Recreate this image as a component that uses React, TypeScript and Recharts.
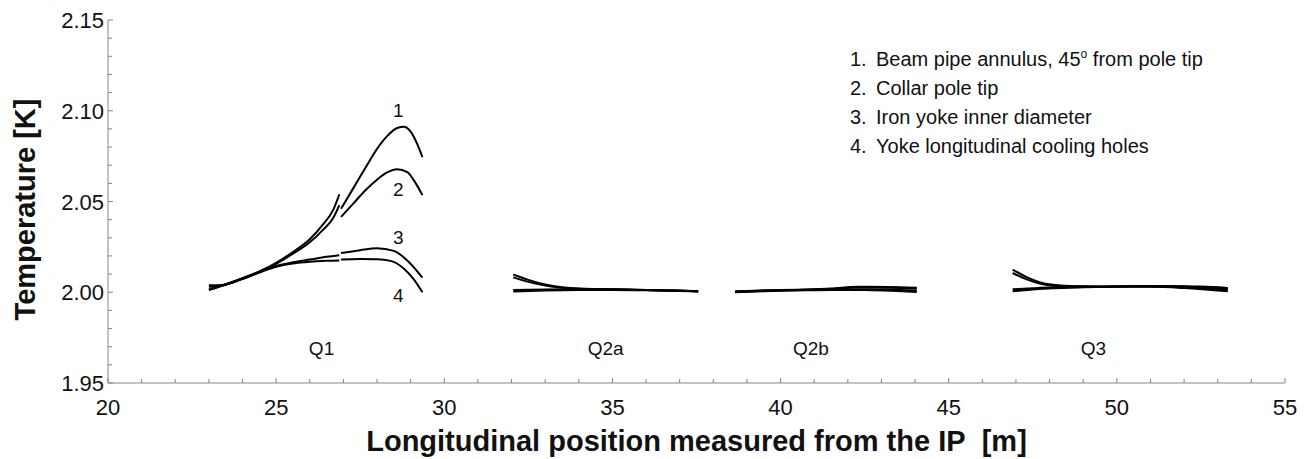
import React from 'react';
import { LineChart, Line, XAxis, YAxis, ReferenceDot, Label } from 'recharts';

// [position m, temperature K]; a null temperature breaks the line
type Pt = [number, number | null];

// 1. Beam pipe annulus, 45 deg from pole tip
const beamPipe: Pt[] = [
  [23.0, 2.0015], [23.5, 2.0045], [24.0, 2.0078], [24.5, 2.0115], [25.0, 2.0162], [25.5, 2.0222],
  [26.0, 2.0292], [26.4, 2.0375], [26.7, 2.0455], [26.88, 2.054],
  [26.9, null],
  [26.93, 2.046], [27.3, 2.0575], [27.7, 2.0700], [28.0, 2.0790], [28.3, 2.0860], [28.6, 2.0905],
  [28.8, 2.0912], [29.0, 2.0885], [29.2, 2.0815], [29.35, 2.0745],
  [30.0, null],
  [32.05, 2.0098], [32.5, 2.0068], [33.0, 2.0043], [33.5, 2.0028], [34.0, 2.0021], [35.0, 2.0017],
  [36.0, 2.0013], [37.0, 2.0009], [37.55, 2.0006],
  [38.0, null],
  [38.65, 2.0005], [39.5, 2.0010], [40.5, 2.0014], [41.5, 2.0020], [42.3, 2.0030], [43.2, 2.0029], [44.05, 2.0025],
  [45.0, null],
  [46.9, 2.0125], [47.3, 2.0085], [47.7, 2.0056], [48.1, 2.0041], [48.6, 2.0034], [49.5, 2.0032],
  [50.5, 2.0035], [51.5, 2.0035], [52.5, 2.0031], [53.3, 2.0024],
];

// 2. Collar pole tip
const collarPole: Pt[] = [
  [23.0, 2.0012], [23.5, 2.0043], [24.0, 2.0076], [24.5, 2.0112], [25.0, 2.0156], [25.5, 2.0212],
  [26.0, 2.0275], [26.4, 2.0345], [26.7, 2.0410], [26.88, 2.0480],
  [26.9, null],
  [26.93, 2.0415], [27.3, 2.0490], [27.7, 2.0570], [28.0, 2.0620], [28.3, 2.0660], [28.6, 2.0678],
  [28.9, 2.0662], [29.1, 2.0615], [29.35, 2.0535],
  [30.0, null],
  [32.05, 2.0082], [32.5, 2.0057], [33.0, 2.0037], [33.5, 2.0025], [34.0, 2.0019], [35.0, 2.0016],
  [36.0, 2.0012], [37.0, 2.0008], [37.55, 2.0005],
  [38.0, null],
  [38.65, 2.0003], [39.5, 2.0009], [40.5, 2.0013], [41.5, 2.0018], [42.3, 2.0026], [43.2, 2.0025], [44.05, 2.0021],
  [45.0, null],
  [46.9, 2.0106], [47.3, 2.0072], [47.7, 2.0048], [48.1, 2.0036], [48.6, 2.0031], [49.5, 2.0030],
  [50.5, 2.0033], [51.5, 2.0033], [52.5, 2.0028], [53.3, 2.0020],
];

// 3. Iron yoke inner diameter
const yokeInner: Pt[] = [
  [23.0, 2.0038], [23.4, 2.0040], [24.0, 2.0076], [24.5, 2.0112], [25.0, 2.0145], [25.5, 2.0165],
  [26.0, 2.0180], [26.5, 2.0195], [26.88, 2.0204],
  [26.9, null],
  [26.93, 2.0216], [27.5, 2.0232], [28.0, 2.0242], [28.5, 2.0228], [28.9, 2.0175], [29.35, 2.0080],
  [30.0, null],
  [32.05, 2.0012], [33.0, 2.0015], [34.0, 2.0016], [35.0, 2.0015], [36.0, 2.0012], [37.0, 2.0008], [37.55, 2.0005],
  [38.0, null],
  [38.65, 2.0002], [39.5, 2.0008], [40.5, 2.0012], [41.5, 2.0015], [42.5, 2.0017], [43.3, 2.0014], [44.05, 2.0010],
  [45.0, null],
  [46.9, 2.0016], [47.5, 2.0022], [48.1, 2.0027], [49.0, 2.0030], [50.0, 2.0032], [51.0, 2.0032],
  [52.0, 2.0027], [53.3, 2.0012],
];

// 4. Yoke longitudinal cooling holes
const coolingHoles: Pt[] = [
  [23.0, 2.0030], [23.4, 2.0036], [24.0, 2.0073], [24.5, 2.0108], [25.0, 2.0140], [25.5, 2.0158],
  [26.0, 2.0168], [26.5, 2.0173], [26.88, 2.0175],
  [26.9, null],
  [26.93, 2.0180], [27.5, 2.0183], [28.0, 2.0182], [28.4, 2.0173], [28.8, 2.0130], [29.1, 2.0070], [29.35, 2.0000],
  [30.0, null],
  [32.05, 2.0004], [33.0, 2.0010], [34.0, 2.0013], [35.0, 2.0013], [36.0, 2.0011], [37.0, 2.0007], [37.55, 2.0004],
  [38.0, null],
  [38.65, 2.0000], [39.5, 2.0006], [40.5, 2.0010], [41.5, 2.0013], [42.5, 2.0013], [43.3, 2.0008], [44.05, 2.0002],
  [45.0, null],
  [46.9, 2.0006], [47.5, 2.0015], [48.1, 2.0022], [49.0, 2.0027], [50.0, 2.0030], [51.0, 2.0030],
  [52.0, 2.0023], [53.3, 2.0005],
];

const seriesNames = [
  'Beam pipe annulus, 45',
  'Collar pole tip',
  'Iron yoke inner diameter',
  'Yoke longitudinal cooling holes',
];

// curve numbers next to Q1 peaks: [x, T, text]
const curveTags: [number, number, string][] = [
  [28.63, 2.1005, '1'],
  [28.63, 2.0568, '2'],
  [28.63, 2.0305, '3'],
  [28.63, 1.9985, '4'],
];

// magnet names
const magnetTags: [number, number, string][] = [
  [26.35, 1.9693, 'Q1'],
  [34.8, 1.9693, 'Q2a'],
  [40.9, 1.9693, 'Q2b'],
  [49.3, 1.9693, 'Q3'],
];

const xTicks = [
  20, 21, 22, 23, 24, 25, 26, 27, 28, 29, 30, 31, 32, 33, 34, 35, 36, 37,
  38, 39, 40, 41, 42, 43, 44, 45, 46, 47, 48, 49, 50, 51, 52, 53, 54, 55,
];
const yTicks = [
  1.95, 1.96, 1.97, 1.98, 1.99, 2.0, 2.01, 2.02, 2.03, 2.04, 2.05,
  2.06, 2.07, 2.08, 2.09, 2.1, 2.11, 2.12, 2.13, 2.14, 2.15,
];

const FONT = '"Liberation Sans", Arial, Helvetica, sans-serif';
const AXIS = '#858585';
const INK = '#111';

const toRows = (pts: Pt[]) => pts.map(([x, t]) => ({ x, t }));
const isMajorX = (v: number) => v % 5 === 0;
const isMajorY = (v: number) => Math.round(v * 100) % 5 === 0;

const BottomTick = ({ x, y, payload }: any) => (
  <g>
    <line x1={x} y1={y} x2={x} y2={y - (isMajorX(payload.value) ? 5 : 4)} stroke={AXIS} />
    {isMajorX(payload.value) && (
      <text x={x} y={y + 32} textAnchor="middle" fontSize={22} fontFamily={FONT} fill={INK}>
        {payload.value}
      </text>
    )}
  </g>
);

const TopTick = ({ x, y, payload }: any) => (
  <line x1={x} y1={y} x2={x} y2={y + (isMajorX(payload.value) ? 5 : 4)} stroke={AXIS} />
);

const LeftTick = ({ x, y, payload }: any) => (
  <g>
    <line x1={x} y1={y} x2={x + (isMajorY(payload.value) ? 5 : 4)} y2={y} stroke={AXIS} />
    {isMajorY(payload.value) && (
      <text x={x - 4} y={y + 8} textAnchor="end" fontSize={22} fontFamily={FONT} fill={INK}>
        {payload.value.toFixed(2)}
      </text>
    )}
  </g>
);

const RightTick = ({ x, y, payload }: any) => (
  <line x1={x} y1={y} x2={x - (isMajorY(payload.value) ? 5 : 4)} y2={y} stroke={AXIS} />
);

const legendRows = [
  ['1.', <>Beam pipe annulus, 45<sup style={{ fontSize: '0.6em', lineHeight: 0 }}>o</sup> from pole tip</>],
  ['2.', <>Collar pole tip</>],
  ['3.', <>Iron yoke inner diameter</>],
  ['4.', <>Yoke longitudinal cooling holes</>],
];

const App = () => {
  const curves = [beamPipe, collarPole, yokeInner, coolingHoles];
  return (
    <div style={{ position: 'relative', width: 1299, height: 451, fontFamily: FONT, background: '#fff' }}>
      <LineChart width={1299} height={451} margin={{ top: 12, right: 22, bottom: 0, left: 0 }}>
        <XAxis
          xAxisId="b"
          dataKey="x"
          type="number"
          domain={[20, 55]}
          ticks={xTicks}
          interval={0}
          allowDataOverflow
          height={76}
          tickSize={0}
          tickMargin={0}
          tick={<BottomTick />}
          axisLine={{ stroke: AXIS }}
        >
          <Label
            content={({ viewBox }: any) => (
              <text
                x={viewBox.x + viewBox.width / 2}
                y={viewBox.y + 68}
                textAnchor="middle"
                fontSize={29}
                fontWeight="bold"
                fontFamily={FONT}
                fill={INK}
              >
                Longitudinal position measured from the IP{'\u00a0\u00a0'}[m]
              </text>
            )}
          />
        </XAxis>
        <XAxis
          xAxisId="t"
          orientation="top"
          dataKey="x"
          type="number"
          domain={[20, 55]}
          ticks={xTicks}
          interval={0}
          height={0}
          tickSize={0}
          tickMargin={0}
          tick={<TopTick />}
          axisLine={{ stroke: AXIS }}
        />
        <YAxis
          yAxisId="l"
          type="number"
          domain={[1.95, 2.15]}
          ticks={yTicks}
          interval={0}
          allowDataOverflow
          width={100}
          tickSize={0}
          tickMargin={0}
          tick={<LeftTick />}
          axisLine={{ stroke: AXIS }}
        >
          <Label
            content={({ viewBox }: any) => {
              const cx = 27;
              const cy = viewBox.y + viewBox.height / 2 + 8;
              return (
                <text
                  x={cx}
                  y={cy}
                  transform={`rotate(-90, ${cx}, ${cy})`}
                  textAnchor="middle"
                  fontSize={29}
                  fontWeight="bold"
                  fontFamily={FONT}
                  fill={INK}
                >
                  Temperature [K]
                </text>
              );
            }}
          />
        </YAxis>
        <YAxis
          yAxisId="r"
          orientation="right"
          type="number"
          domain={[1.95, 2.15]}
          ticks={yTicks}
          interval={0}
          width={0}
          tickSize={0}
          tickMargin={0}
          tick={<RightTick />}
          axisLine={{ stroke: AXIS }}
        />
        {curves.map((pts, i) => (
          <Line
            key={seriesNames[i]}
            name={seriesNames[i]}
            xAxisId="b"
            yAxisId="l"
            data={toRows(pts)}
            dataKey="t"
            type="monotone"
            stroke="#000"
            strokeWidth={2}
            dot={false}
            activeDot={false}
            connectNulls={false}
            isAnimationActive={false}
          />
        ))}
        {[...curveTags, ...magnetTags].map(([x, t, txt]) => (
          <ReferenceDot
            key={txt}
            xAxisId="b"
            yAxisId="l"
            x={x}
            y={t}
            r={0}
            fill="none"
            stroke="none"
            label={{ value: txt, position: 'center', fontSize: 19, fontFamily: FONT, fill: INK }}
          />
        ))}
      </LineChart>
      <div
        style={{
          position: 'absolute',
          left: 842,
          top: 37,
          fontSize: 20,
          lineHeight: '29px',
          color: INK,
        }}
      >
        {legendRows.map(([num, text], i) => (
          <div key={i} style={{ display: 'flex', alignItems: 'baseline', whiteSpace: 'nowrap' }}>
            <span style={{ width: 26 }}>{num}</span>
            <span>{text}</span>
          </div>
        ))}
      </div>
    </div>
  );
};

export default App;
